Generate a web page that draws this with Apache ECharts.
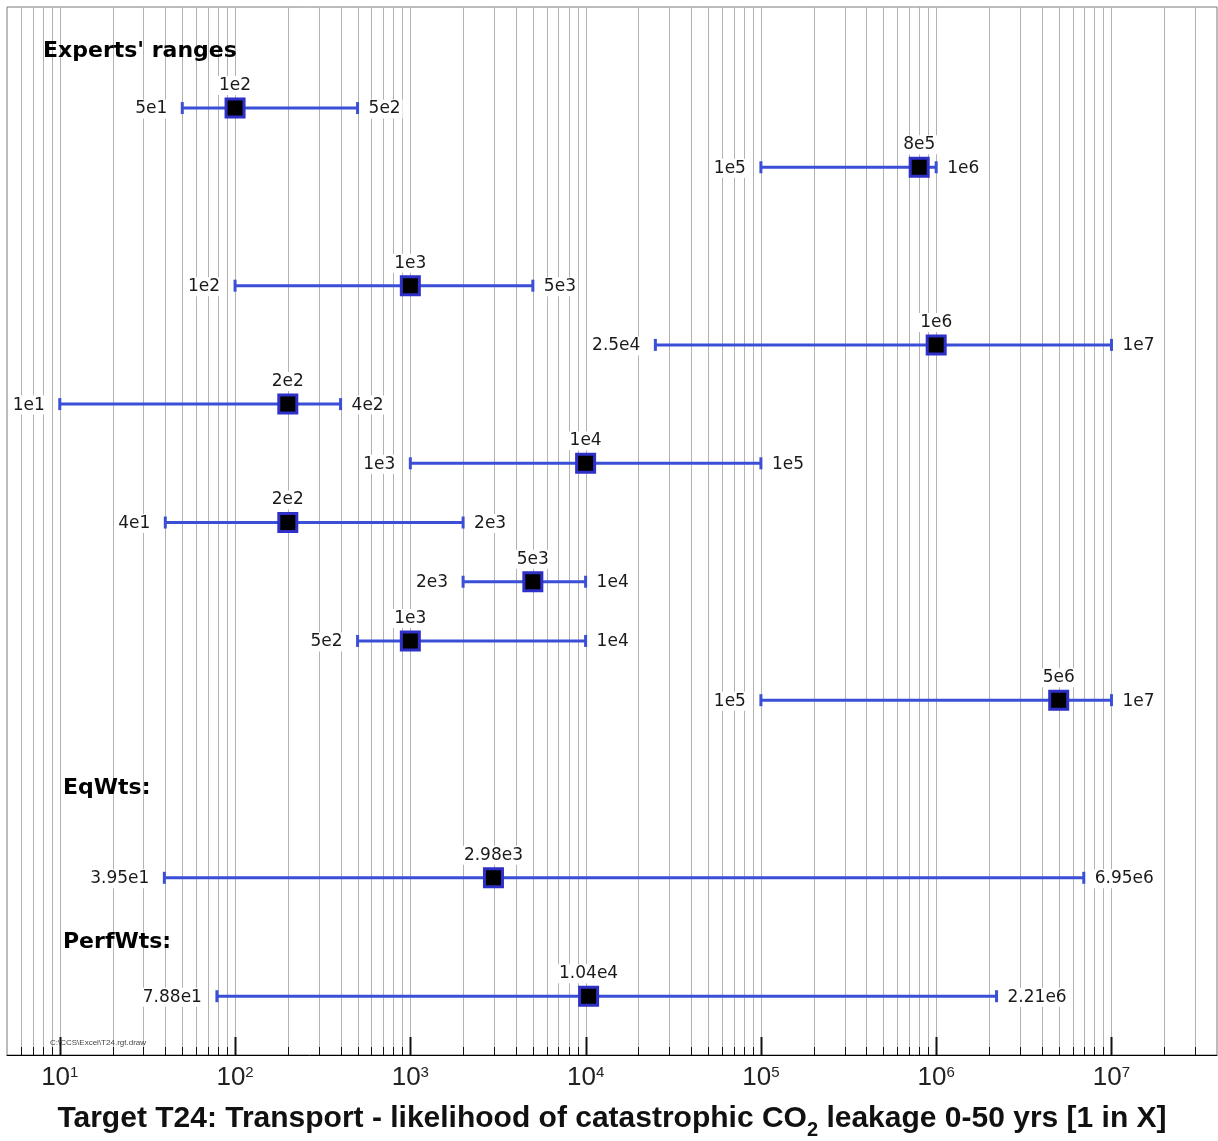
<!DOCTYPE html>
<html>
<head>
<meta charset="utf-8">
<script src="https://cdn.jsdelivr.net/npm/echarts@6/dist/echarts.min.js"></script>
<style>
  html, body { margin: 0; padding: 0; background: #fff; }
  #chart { width: 1218px; height: 1141px; }
</style>
</head>
<body>
<div id="chart"></div>
<script>
// Experts' answers, 1 in X: lower bound, best estimate, upper bound (expert 3 gave none)
const expertLow  = [50, 1e5, null, 100, 2.5e4, 10, 1e3, 40, 2e3, 500, 1e5];
const expertBest = [100, 8e5, null, 1e3, 1e6, 200, 1e4, 200, 5e3, 1e3, 5e6];
const expertHigh = [500, 1e6, null, 5e3, 1e7, 400, 1e5, 2e3, 1e4, 1e4, 1e7];
// Pooled decision makers: [low, best, high]
const eqWts   = [39.5, 2980, 6.95e6];
const perfWts = [78.8, 1.04e4, 2.21e6];
// Axis range (1 in X)
const axisMin = 5;
const axisMax = 4e7;
const sectionTitles = ["Experts' ranges", 'EqWts:', 'PerfWts:'];
const xTitle = ['Target T24: Transport - likelihood of catastrophic CO', '2', ' leakage 0-50 yrs [1 in X]'];
const fileTag = 'C:\\CCS\\Excel\\T24.rgt.draw';

// Row slots on the vertical value axis
const ROW_EQ = 13, ROW_PERF = 15;

const rangeData = [];
expertLow.forEach((lo, i) => {
  if (lo != null) rangeData.push([lo, expertBest[i], expertHigh[i], i]);
});
rangeData.push([eqWts[0], eqWts[1], eqWts[2], ROW_EQ]);
rangeData.push([perfWts[0], perfWts[1], perfWts[2], ROW_PERF]);

// Vertical grid values: every 1..9 x 10^k inside the axis range
const gridValues = [];
for (let k = 0; k <= 7; k++) {
  for (let m = 1; m <= 9; m++) {
    const v = m * Math.pow(10, k);
    if (v > axisMin && v < axisMax) gridValues.push(v);
  }
}

function isPow10(v) {
  const e = Math.log10(v);
  return Math.abs(e - Math.round(e)) < 1e-9;
}
function fmt(v) {
  return v.toExponential().replace('e+', 'e');
}

const BLUE = '#3b4fd6';
const VALUE_FONT = '17px "DejaVu Sans", sans-serif';

function renderGrid(params, api) {
  const v = api.value(0);
  const cs = params.coordSys;
  const x = Math.round(api.coord([v, 0])[0]) + 0.5;
  const bottom = cs.y + cs.height;
  const major = isPow10(v);
  return {
    type: 'group',
    children: [
      { type: 'line', shape: { x1: x, y1: cs.y, x2: x, y2: bottom },
        style: { stroke: '#b2b2b2', lineWidth: 1 } },
      { type: 'line', shape: { x1: x, y1: bottom - (major ? 18 : 8), x2: x, y2: bottom },
        style: { stroke: '#111', lineWidth: major ? 2 : 1 } }
    ]
  };
}

function renderRange(params, api) {
  const lo = api.value(0), best = api.value(1), hi = api.value(2), row = api.value(3);
  const pL = api.coord([lo, row]);
  const pM = api.coord([best, row]);
  const pH = api.coord([hi, row]);
  const y = pL[1] + 1;
  const labelStyle = (text, align, vAlign) => ({
    text, align, verticalAlign: vAlign, font: VALUE_FONT, fill: '#1a1a1a',
    backgroundColor: '#fff', padding: [1, 2]
  });
  return {
    type: 'group',
    children: [
      { type: 'line', shape: { x1: pL[0], y1: y, x2: pH[0], y2: y },
        style: { stroke: BLUE, lineWidth: 3 } },
      { type: 'line', shape: { x1: pL[0], y1: y - 6, x2: pL[0], y2: y + 6 },
        style: { stroke: BLUE, lineWidth: 3 } },
      { type: 'line', shape: { x1: pH[0], y1: y - 6, x2: pH[0], y2: y + 6 },
        style: { stroke: BLUE, lineWidth: 3 } },
      { type: 'rect', shape: { x: pM[0] - 9, y: y - 9, width: 18, height: 18 },
        style: { fill: '#000', stroke: '#2e30c8', lineWidth: 3 } },
      { type: 'text', x: pL[0] - 13, y: y + 1, style: labelStyle(fmt(lo), 'right', 'middle') },
      { type: 'text', x: pH[0] + 9, y: y + 1, style: labelStyle(fmt(hi), 'left', 'middle') },
      { type: 'text', x: pM[0], y: y - 13, style: labelStyle(fmt(best), 'center', 'bottom') }
    ]
  };
}

const chart = echarts.init(document.getElementById('chart'), null, { renderer: 'canvas' });
chart.setOption({
  animation: false,
  backgroundColor: '#fff',
  grid: {
    left: 7, right: 1, top: 7, bottom: 86,
    show: true, borderColor: '#7a7a7a', borderWidth: 1, backgroundColor: 'transparent'
  },
  xAxis: {
    type: 'log', logBase: 10, min: axisMin, max: axisMax, splitNumber: 7,
    axisLine: { show: true, onZero: false, lineStyle: { color: '#000', width: 1 } },
    axisTick: { show: false },
    splitLine: { show: false },
    minorTick: { show: false },
    axisLabel: {
      showMinLabel: false, showMaxLabel: false, margin: 10,
      formatter: (v) => isPow10(v) ? '{b|10}{s|' + Math.round(Math.log10(v)) + '}' : '',
      rich: {
        b: { fontSize: 26, fontFamily: '"Liberation Sans Narrow", "Liberation Sans", sans-serif', color: '#222' },
        s: { fontSize: 15, fontFamily: '"Liberation Sans Narrow", "Liberation Sans", sans-serif', color: '#222', verticalAlign: 'top' }
      }
    }
  },
  yAxis: { type: 'value', inverse: true, min: -1.69, max: 16.01, show: false },
  series: [
    { type: 'custom', name: 'grid', data: gridValues.map(v => [v]), renderItem: renderGrid, z: 1, silent: true },
    { type: 'custom', name: 'ranges', data: rangeData, renderItem: renderRange, z: 5, silent: true }
  ],
  graphic: [
    { type: 'text', x: 43, y: 51, z: 10,
      style: { text: sectionTitles[0], verticalAlign: 'middle', font: 'bold 22px "DejaVu Sans", sans-serif', fill: '#000' } },
    { type: 'text', x: 63, y: 788, z: 10,
      style: { text: sectionTitles[1], verticalAlign: 'middle', font: 'bold 22px "DejaVu Sans", sans-serif', fill: '#000' } },
    { type: 'text', x: 63, y: 942, z: 10,
      style: { text: sectionTitles[2], verticalAlign: 'middle', font: 'bold 22px "DejaVu Sans", sans-serif', fill: '#000' } },
    { type: 'text', x: 50, y: 1043, z: 10,
      style: { text: fileTag, verticalAlign: 'middle', font: '8px "Liberation Sans", sans-serif', fill: '#444' } },
    { type: 'text', x: 612, y: 1119, z: 10,
      style: {
        text: '{t|' + xTitle[0] + '}{sub|' + xTitle[1] + '}{t|' + xTitle[2] + '}',
        align: 'center', verticalAlign: 'middle',
        rich: {
          t: { font: 'bold 30px "Liberation Sans", sans-serif', fill: '#111', verticalAlign: 'bottom' },
          sub: { font: 'bold 20px "Liberation Sans", sans-serif', fill: '#111', verticalAlign: 'bottom', padding: [0, 0, -6, 0] }
        }
      } }
  ]
});
</script>
</body>
</html>
